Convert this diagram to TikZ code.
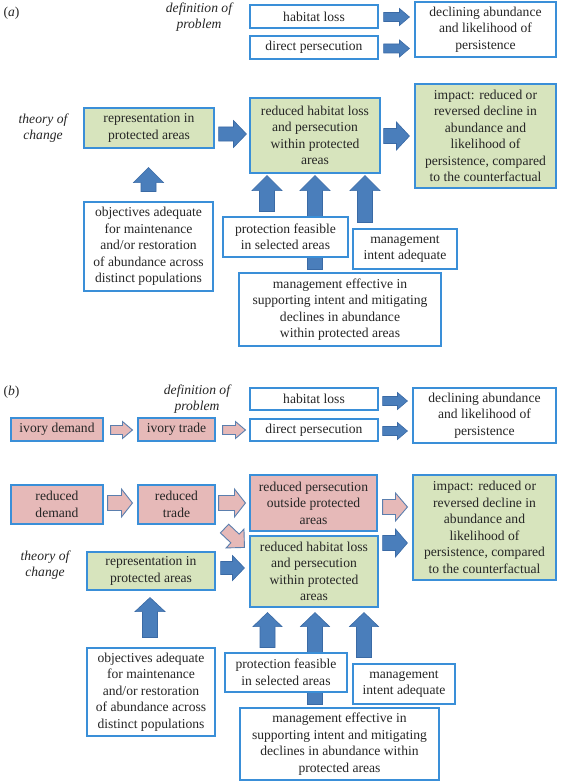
\documentclass[tikz,border=0pt]{standalone}
\usepackage{fontspec}
\setmainfont{Liberation Serif}
\usetikzlibrary{calc}
\definecolor{boxblue}{HTML}{3A8FD8}
\definecolor{boxgreen}{HTML}{D7E4BD}
\definecolor{boxpink}{HTML}{E6B9B8}
\definecolor{arrblue}{HTML}{4A7EBB}
\definecolor{arrblueD}{HTML}{3A6AA5}
\definecolor{arrpinkD}{HTML}{5B7FAE}
\definecolor{txt}{HTML}{262626}
\newcommand\barr[6][]{%
  \coordinate (ba-s) at (#2);
  \coordinate (ba-t) at (#3);
  \coordinate (ba-h) at ($(ba-t)!#6!(ba-s)$);
  \draw[#1] ($(ba-s)!#4!90:(ba-t)$) -- ($(ba-h)!#4!90:(ba-t)$) -- ($(ba-h)!#5!90:(ba-t)$)
    -- (ba-t) -- ($(ba-h)!#5!-90:(ba-t)$) -- ($(ba-h)!#4!-90:(ba-t)$) -- ($(ba-s)!#4!-90:(ba-t)$) -- cycle;
}
\newcommand\dfont{\fontsize{13.6}{16.5}\selectfont}
\tikzset{
  box/.style={draw=boxblue, line width=1.1pt, fill=white, align=center, inner sep=0pt, text=txt},
  gbox/.style={box, fill=boxgreen},
  pbox/.style={box, fill=boxpink},
  sz/.style 2 args={minimum width=#1pt, minimum height=#2pt},
  barrow/.style={fill=arrblue, draw=arrblueD, line width=0.6pt, line join=miter},
  parrow/.style={fill=boxpink, draw=arrpinkD, line width=0.9pt, line join=miter},
  lab/.style={font=\dfont\itshape, align=center, text=txt},
}
\begin{document}
\begin{tikzpicture}[x=1pt, y=-1pt, font=\dfont]
\useasboundingbox[fill=white] (0,0) rectangle (560,781);

% ---------------- panel (a) ----------------
\node[anchor=west, text=txt] (la) at (0,13) {(\textit{a})};
\node[lab] (defA) at (199,17) {definition of\\problem};
\node[lab] (tocA) at (43,128) {theory of\\change};

\node[box, sz={128}{23}] (hlA) at (314,16.5) {habitat loss};
\node[box, sz={128}{23}] (dpA) at (314,47.5) {direct persecution};
\node[box, sz={141}{55}] (decA) at (485.5,29.5) {declining abundance\\and likelihood of\\persistence};
\node[gbox, sz={130}{40}] (repA) at (149,128) {representation in\\protected areas};
\node[gbox, sz={130}{75}] (redA) at (315,135.5) {reduced habitat loss\\and persecution\\within protected\\areas};
\node[gbox, sz={141}{104}] (impA) at (485.5,136) {impact: reduced or\\reversed decline in\\abundance and\\likelihood of\\persistence, compared\\to the counterfactual};

% arrows (a), drawn before the lower boxes
\barr[barrow]{$(hlA.east)+(5,0.5)$}{$(hlA.east -| decA.west)+(-5,0.5)$}{4.5pt}{8.5pt}{10pt}
\barr[barrow]{$(dpA.east)+(5,1)$}{$(dpA.east -| decA.west)+(-5,1)$}{4.5pt}{8.5pt}{10pt}
\barr[barrow]{$(repA.east)+(4,6)$}{$(repA.east -| redA.west)+(-3,6)$}{7pt}{13.5pt}{13pt}
\barr[barrow]{$(redA.east)+(3,0.5)$}{$(redA.east -| impA.west)+(-5,0.5)$}{7.5pt}{14pt}{13pt}

\node[box, sz={129}{89}] (objA) at (148.5,246.5) {objectives adequate\\for maintenance\\and/or restoration\\of abundance across\\distinct populations};
\barr[barrow]{$(objA.north)+(0,-10)$}{$(repA.south)+(-0.5,19)$}{7.5pt}{15pt}{15pt}

\node[box, sz={202}{73}] (meffA) at (340,309.5) {management effective in\\supporting intent and mitigating\\declines in abundance\\within protected areas};
\barr[barrow]{$(meffA.north)+(-25,-3)$}{$(redA.south)+(0,2)$}{7.5pt}{15pt}{15pt}
\node[box, sz={125}{40}] (protA) at (285.5,237) {protection feasible\\in selected areas};
\node[box, sz={104}{40}] (mintA) at (405,249) {management\\intent adequate};
\barr[barrow]{$(protA.north)+(-18.5,-5)$}{$(redA.south)+(-48,2)$}{7.5pt}{15pt}{15pt}
\barr[barrow]{$(mintA.north)+(-40,-6)$}{$(redA.south)+(50,2)$}{7.5pt}{15pt}{15pt}

% ---------------- panel (b) ----------------
\node[anchor=west, text=txt] (lb) at (0,392) {(\textit{b})};
\node[lab] (defB) at (197,399) {definition of\\problem};
\node[lab] (tocB) at (45,565) {theory of\\change};

\node[box, sz={128}{22}] (hlB) at (314,399) {habitat loss};
\node[box, sz={128}{22}] (dpB) at (314,430) {direct persecution};
\node[box, sz={143}{55}] (decB) at (484.5,415.5) {declining abundance\\and likelihood of\\persistence};
\node[pbox, sz={92}{23}] (ivdB) at (57,429.5) {ivory demand};
\node[pbox, sz={77}{23}] (ivtB) at (176.5,429.5) {ivory trade};
\node[pbox, sz={92}{39}] (rdemB) at (57,504.5) {reduced\\demand};
\node[pbox, sz={77}{39}] (rtrB) at (176.5,504.5) {reduced\\trade};
\node[pbox, sz={127}{56}] (rpoB) at (313.5,503) {reduced persecution\\outside protected\\areas};
\node[gbox, sz={128}{71}] (rhB) at (314,571.5) {reduced habitat loss\\and persecution\\within protected\\areas};
\node[gbox, sz={128}{38}] (repB) at (151,571) {representation in\\protected areas};
\node[gbox, sz={143}{105}] (impB) at (484.5,527.5) {impact: reduced or\\reversed decline in\\abundance and\\likelihood of\\persistence, compared\\to the counterfactual};

\barr[barrow]{$(hlB.east)+(4,2)$}{$(hlB.east -| decB.west)+(-5,2)$}{4.5pt}{8.5pt}{10pt}
\barr[barrow]{$(dpB.east)+(4,1)$}{$(dpB.east -| decB.west)+(-5,1)$}{4.5pt}{8.5pt}{10pt}
\barr[parrow]{$(ivdB.east)+(7,0.5)$}{$(ivdB.east -| ivtB.west)+(-5,0.5)$}{4.5pt}{8.5pt}{10pt}
\barr[parrow]{$(ivtB.east)+(7,0.5)$}{$(ivtB.east -| dpB.west)+(-4,0.5)$}{4.5pt}{8.5pt}{10pt}
\barr[parrow]{$(rdemB.east)+(4,-1.5)$}{$(rdemB.east -| rtrB.west)+(-5,-1.5)$}{7.5pt}{14pt}{11pt}
\barr[parrow]{$(rtrB.east)+(3,-1.5)$}{$(rtrB.east -| rpoB.west)+(-4,-1.5)$}{7.5pt}{14pt}{11pt}
\barr[parrow]{$(rtrB.south east)+(9,4)$}{$(rhB.north west)+(-5,12)$}{6pt}{13pt}{13pt}
\barr[barrow]{$(repB.east)+(5,-3)$}{$(repB.east -| rhB.west)+(-5,-3)$}{6.5pt}{12.5pt}{12pt}
\barr[parrow]{$(rpoB.east)+(5,4)$}{$(rpoB.east -| impB.west)+(-5,4)$}{7.5pt}{14pt}{12pt}
\barr[barrow]{$(rhB.east)+(4,-28.5)$}{$(rhB.east -| impB.west)+(-5,-28.5)$}{7.5pt}{14pt}{12pt}

\node[box, sz={128}{88}] (objB) at (151,692) {objectives adequate\\for maintenance\\and/or restoration\\of abundance across\\distinct populations};
\barr[barrow]{$(objB.north)+(-1,-10)$}{$(repB.south)+(-1,7)$}{7.5pt}{15pt}{14pt}

\node[box, sz={199}{72}] (meffB) at (339.5,744) {management effective in\\supporting intent and mitigating\\declines in abundance within\\protected areas};
\barr[barrow]{$(meffB.north)+(-24.5,-3)$}{$(rhB.south)+(1,5)$}{7.5pt}{14.5pt}{14pt}
\node[box, sz={122}{39}] (protB) at (286,672.5) {protection feasible\\in selected areas};
\node[box, sz={102}{40}] (mintB) at (404,684) {management\\intent adequate};
\barr[barrow]{$(protB.north)+(-18.5,-5)$}{$(rhB.south)+(-46.5,5)$}{7.5pt}{14.5pt}{14pt}
\barr[barrow]{$(mintB.north)+(-40,-6)$}{$(rhB.south)+(50,5)$}{7.5pt}{14.5pt}{14pt}
\end{tikzpicture}
\end{document}
